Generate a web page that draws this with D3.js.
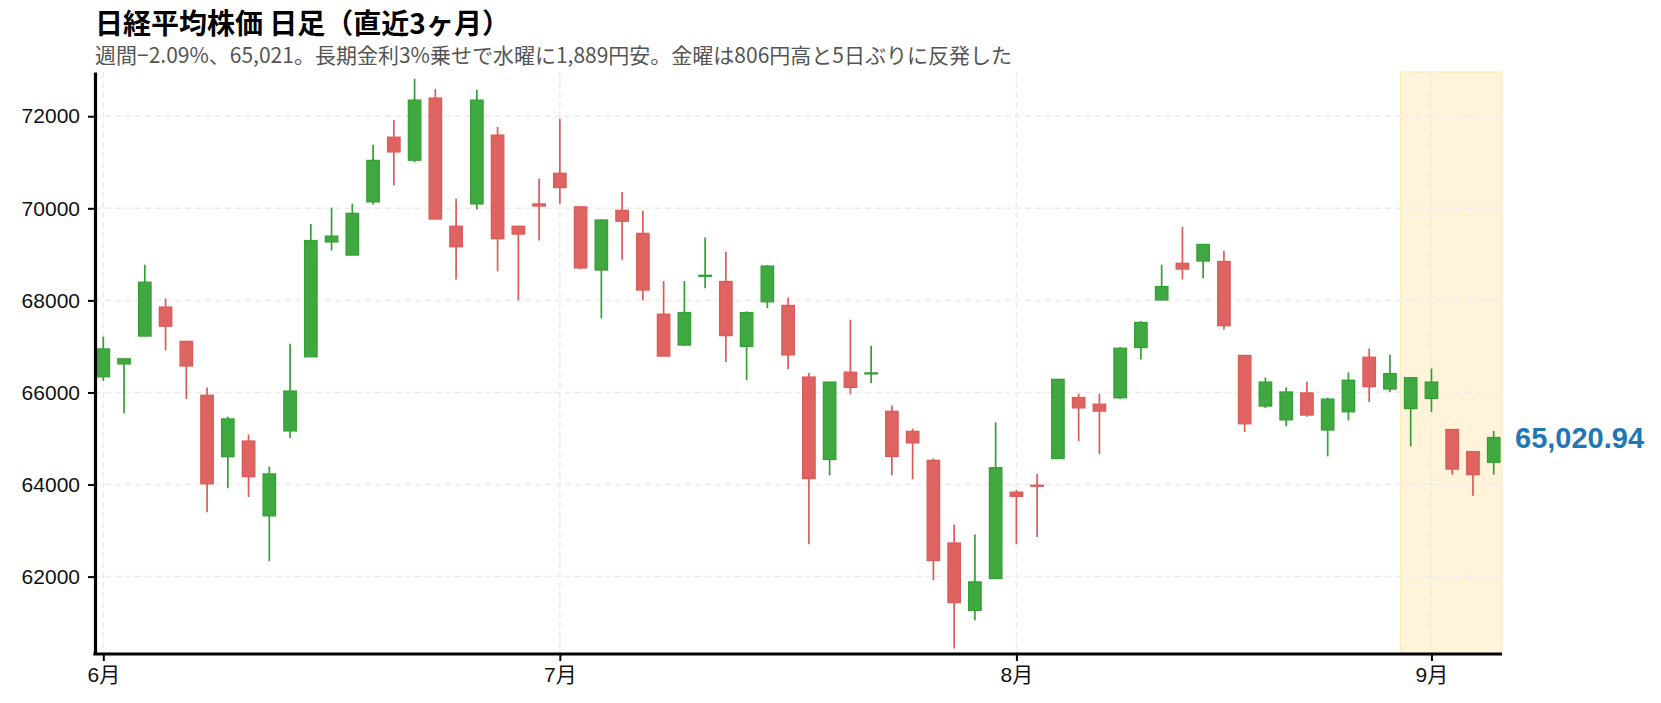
<!DOCTYPE html>
<html lang="ja">
<head>
<meta charset="utf-8">
<script src="https://cdn.jsdelivr.net/npm/d3@7"></script>
<style>
  html, body { margin: 0; padding: 0; background: #fff; }
  svg { display: block; }
  .tick text { font-family: "Liberation Sans", "Noto Sans CJK JP", sans-serif; }
</style>
</head>
<body>
<svg id="chart" width="1661" height="703"></svg>
<script>
// 営業日（6/1〜9/4）
const dates = [
  "2026-06-01","2026-06-02","2026-06-03","2026-06-04","2026-06-05",
  "2026-06-08","2026-06-09","2026-06-10","2026-06-11","2026-06-12",
  "2026-06-15","2026-06-16","2026-06-17","2026-06-18","2026-06-19",
  "2026-06-22","2026-06-23","2026-06-24","2026-06-25","2026-06-26",
  "2026-06-29","2026-06-30",
  "2026-07-01","2026-07-02","2026-07-03",
  "2026-07-06","2026-07-07","2026-07-08","2026-07-09","2026-07-10",
  "2026-07-13","2026-07-14","2026-07-15","2026-07-16","2026-07-17",
  "2026-07-21","2026-07-22","2026-07-23","2026-07-24",
  "2026-07-27","2026-07-28","2026-07-29","2026-07-30","2026-07-31",
  "2026-08-03","2026-08-04","2026-08-05","2026-08-06","2026-08-07",
  "2026-08-10","2026-08-12","2026-08-13","2026-08-14",
  "2026-08-17","2026-08-18","2026-08-19","2026-08-20","2026-08-21",
  "2026-08-24","2026-08-25","2026-08-26","2026-08-27","2026-08-28",
  "2026-08-31","2026-09-01","2026-09-02","2026-09-03","2026-09-04"
];

const open = [
  66340, 66620, 67225, 67855, 67110, 65940, 64605, 64945, 63320, 65165,
  66775, 69270, 68985, 70140, 71545, 71045, 72395, 69610, 70095, 71590,
  69610, 70095, 70760, 70030, 68660, 69955, 69455, 67700, 67030, 68530,
  68410, 67000, 67970, 67890, 66335, 64545, 66440, 66410, 65590, 65155,
  64525, 62730, 61265, 61960, 63835, 63985, 64565, 65890, 65745, 65885,
  66975, 68010, 68805, 68855, 68845, 66805, 65705, 65405, 65990, 65185,
  65580, 66765, 66075, 65650, 65870, 65195, 64715, 64485
];
const high = [
  67210, 66735, 68775, 68040, 67115, 66110, 65475, 65085, 64390, 67060,
  69660, 70015, 70100, 71380, 71920, 72815, 72595, 70210, 72575, 71765,
  69615, 70645, 71945, 70045, 69765, 70355, 69945, 68420, 68420, 69365,
  69055, 67760, 68765, 68060, 66425, 66230, 67580, 67015, 65715, 65215,
  64565, 63130, 62915, 65350, 63885, 64230, 66290, 65970, 65970, 66985,
  67550, 68775, 69595, 69220, 69075, 66810, 66325, 66110, 66235, 65890,
  66435, 66955, 66820, 66320, 66520, 65200, 64720, 65165
];
const low = [
  66250, 65550, 67220, 66915, 65860, 63400, 63920, 63730, 62335, 65010,
  66770, 69085, 68980, 70085, 70495, 71000, 69760, 68455, 69975, 68630,
  68000, 69300, 70100, 68675, 67610, 68885, 68000, 66790, 67005, 68265,
  66660, 66265, 67830, 66505, 62705, 64200, 65960, 66200, 64200, 64115,
  61920, 60440, 61050, 61955, 62705, 62860, 64560, 64940, 64660, 65860,
  66715, 68000, 68455, 68480, 67370, 65140, 65660, 65265, 65475, 64610,
  65395, 65790, 66010, 64830, 65575, 64215, 63757, 64215
];
const close = [
  66945, 66730, 68395, 67440, 66575, 64015, 65425, 64170, 64230, 66030,
  69300, 69395, 69890, 71040, 71225, 72350, 69767, 69165, 72350, 69340,
  69440, 70050, 70450, 68705, 69745, 69720, 68225, 66790, 67735, 68545,
  67235, 67735, 68745, 66815, 64130, 66225, 66110, 66425, 64610, 64905,
  62350, 61435, 61885, 64365, 63745, 63970, 66285, 65665, 65595, 66960,
  67520, 68300, 68680, 69215, 67450, 65320, 66225, 66010, 65510, 65855,
  66265, 66125, 66409, 66320, 66225, 64336, 64215, 65020.94
];

const yTicks = [62000, 64000, 66000, 68000, 70000, 72000];
const weekStart = "2026-08-31"; // 直近1週間の網掛け開始日

const titleText = "日経平均株価 日足（直近3ヶ月）";
const subtitleText = "週間−2.09%、65,021。長期金利3%乗せで水曜に1,889円安。金曜は806円高と5日ぶりに反発した";

(function () {
  const svg = d3.select("#chart");
  const margin = { left: 95, right: 159, top: 72, bottom: 49 };
  const width = +svg.attr("width");
  const height = +svg.attr("height");
  const plotRight = width - margin.right;
  const plotBottom = height - margin.bottom;

  const n = dates.length;
  const candles = dates.map((d, i) => ({
    i, date: d, o: open[i], h: high[i], l: low[i], c: close[i]
  }));

  const x = d3.scaleLinear()
    .domain([-0.4, n - 1 + 0.4])
    .range([margin.left, plotRight]);

  const y = d3.scaleLinear()
    .domain([d3.min(low) * 0.998, d3.max(high) * 1.002])
    .range([plotBottom, margin.top]);

  // 各月の最初の営業日
  const monthStarts = [];
  dates.forEach((d, i) => {
    if (i === 0 || d.slice(5, 7) !== dates[i - 1].slice(5, 7)) monthStarts.push(i);
  });

  // 直近1週間の網掛け
  const ws = dates.indexOf(weekStart);
  svg.append("rect")
    .attr("x", x(ws - 0.5))
    .attr("y", margin.top)
    .attr("width", plotRight - x(ws - 0.5))
    .attr("height", plotBottom - margin.top)
    .attr("fill", "#fff4da")
    .attr("stroke", "#fbe7b2")
    .attr("stroke-width", 1);

  // グリッド
  const grid = svg.append("g").attr("class", "grid")
    .attr("stroke", "#ebebeb")
    .attr("stroke-width", 1.5)
    .attr("stroke-dasharray", "6,4");

  grid.selectAll("line.h")
    .data(yTicks)
    .enter().append("line")
    .attr("class", "h")
    .attr("x1", margin.left).attr("x2", plotRight)
    .attr("y1", d => y(d)).attr("y2", d => y(d));

  grid.selectAll("line.v")
    .data(monthStarts)
    .enter().append("line")
    .attr("class", "v")
    .attr("x1", d => x(d)).attr("x2", d => x(d))
    .attr("y1", margin.top).attr("y2", plotBottom);

  // ローソク足
  const upFill = "#40a840", upLine = "#33a033";
  const downFill = "#de6461", downLine = "#dc5b58";
  const bodyW = (x(1) - x(0)) * 0.6;

  const g = svg.append("g").attr("class", "candles");

  g.selectAll("line.wick")
    .data(candles)
    .enter().append("line")
    .attr("class", "wick")
    .attr("x1", d => x(d.i)).attr("x2", d => x(d.i))
    .attr("y1", d => y(d.h)).attr("y2", d => y(d.l))
    .attr("stroke", d => d.c >= d.o ? upLine : downLine)
    .attr("stroke-width", 1.7);

  g.selectAll("rect.body")
    .data(candles)
    .enter().append("rect")
    .attr("class", "body")
    .attr("x", d => x(d.i) - bodyW / 2)
    .attr("width", bodyW)
    .attr("y", d => y(Math.max(d.o, d.c)))
    .attr("height", d => Math.max(1, Math.abs(y(d.o) - y(d.c))))
    .attr("fill", d => d.c >= d.o ? upFill : downFill)
    .attr("stroke", d => d.c >= d.o ? upLine : downLine)
    .attr("stroke-width", 1.3);

  // 軸
  const yAxis = svg.append("g")
    .attr("transform", `translate(${margin.left},0)`)
    .call(d3.axisLeft(y)
      .tickValues(yTicks)
      .tickFormat(d3.format("d"))
      .tickSize(7)
      .tickSizeOuter(0)
      .tickPadding(8));

  const xAxis = svg.append("g")
    .attr("transform", `translate(0,${plotBottom})`)
    .call(d3.axisBottom(x)
      .tickValues(monthStarts)
      .tickFormat(i => `${+dates[i].slice(5, 7)}月`)
      .tickSize(7)
      .tickSizeOuter(0)
      .tickPadding(6));

  [yAxis, xAxis].forEach(ax => {
    ax.select(".domain").attr("stroke", "#000").attr("stroke-width", 3.2);
    ax.selectAll(".tick line").attr("stroke", "#000").attr("stroke-width", 2);
    ax.selectAll(".tick text")
      .attr("fill", "#111")
      .style("font-size", "21px");
  });
  // 角をつなぐ
  xAxis.select(".domain").attr("d", `M${margin.left - 1.6},0H${plotRight}`);

  // 最新値ラベル
  const last = candles[n - 1];
  svg.append("text")
    .attr("x", plotRight + 13)
    .attr("y", y(last.c))
    .attr("dy", "0.36em")
    .attr("fill", "#1f77b4")
    .style("font-family", "'Liberation Sans', sans-serif")
    .style("font-weight", "bold")
    .style("font-size", "29px")
    .text(d3.format(",.2f")(last.c));

  // タイトル
  svg.append("text")
    .attr("x", 95)
    .attr("y", 34)
    .attr("fill", "#000")
    .style("font-family", "'Noto Sans CJK JP', sans-serif")
    .style("font-weight", "bold")
    .style("font-size", "28px")
    .text(titleText);

  svg.append("text")
    .attr("x", 95)
    .attr("y", 63)
    .attr("fill", "#555")
    .style("font-family", "'Noto Sans CJK JP', sans-serif")
    .style("font-size", "21px")
    .text(subtitleText);
})();
</script>
</body>
</html>
